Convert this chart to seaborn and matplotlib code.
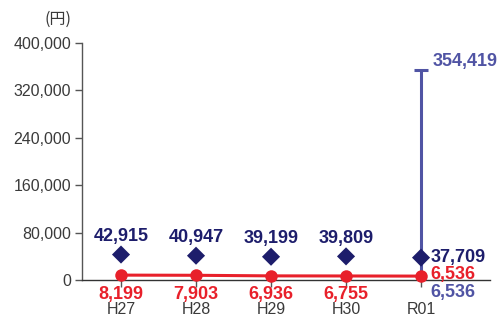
import numpy as np
import pandas as pd
import matplotlib.pyplot as plt
import seaborn as sns

# data
years = ["H27", "H28", "H29", "H30", "R01"]
avg_values = [42915, 40947, 39199, 39809, 37709]
median_values = [8199, 7903, 6936, 6755, 6536]
range_min = 6536
range_max = 354419

navy = "#1d1d6b"
red = "#e8202a"
purple = "#5054a4"

sns.set_style("white")
plt.rcParams['font.family'] = ['Liberation Sans', 'Noto Sans CJK JP', 'DejaVu Sans']

df = pd.DataFrame({"year": years, "avg": avg_values, "median": median_values})
df["x"] = np.arange(len(years))

fig = plt.figure(figsize=(4.97, 3.16), dpi=100)
ax = fig.add_axes([0.165, 0.114, 0.821, 0.75])

# range bar for the last year
last = df["x"].iloc[-1]
ax.vlines(last, range_min, range_max, color=purple, lw=2.2, zorder=2)
ax.hlines(range_max, last - 0.09, last + 0.09, color=purple, lw=2.2, zorder=2)

sns.lineplot(data=df, x="x", y="median", color=red, lw=2.2, marker="o",
             markersize=9, markeredgewidth=0, ax=ax, zorder=3)
sns.scatterplot(data=df, x="x", y="avg", color=navy, marker="D", s=85,
                edgecolor="none", ax=ax, zorder=4)

lab = dict(fontsize=13, fontweight="bold", textcoords="offset points")

# labels
for i, row in df.iterrows():
    if i < len(df) - 1:
        ax.annotate(f"{row['avg']:,}", (row["x"], row["avg"]), xytext=(0, 7),
                    ha="center", va="bottom", color=navy, **lab)
        ax.annotate(f"{row['median']:,}", (row["x"], 0), xytext=(0, -4),
                    ha="center", va="top", color=red, **lab)
    else:
        ax.annotate(f"{row['avg']:,}", (row["x"], row["avg"]), xytext=(7, 0),
                    ha="left", va="center", color=navy, **lab)
        ax.annotate(f"{row['median']:,}", (row["x"], row["median"]), xytext=(7, 1),
                    ha="left", va="center", color=red, **lab)
        ax.annotate(f"{range_min:,}", (row["x"], 0), xytext=(7, -3),
                    ha="left", va="top", color=purple, **lab)
ax.annotate(f"{range_max:,}", (last, range_max), xytext=(8, 6),
            ha="left", va="center", color=purple, **lab)

ax.set_xlim(-0.52, 4.92)
ax.set_ylim(0, 400000)
ax.set_yticks(np.arange(0, 400001, 80000))
ax.set_yticklabels([f"{v:,}" for v in range(0, 400001, 80000)])
ax.set_xticks(df["x"])
ax.set_xticklabels(years)
ax.set_xlabel("")
ax.set_ylabel("")

for s in ["top", "right"]:
    ax.spines[s].set_visible(False)
ax.spines["left"].set_color("#555555")
ax.spines["bottom"].set_color("#333333")
ax.spines["left"].set_linewidth(1)
ax.spines["bottom"].set_linewidth(1)
ax.tick_params(axis="y", length=5, width=1, color="#555555", labelsize=11.5,
               labelcolor="#3a3a3a", pad=3, left=True)
ax.tick_params(axis="x", length=5, width=1, color="#555555", labelsize=11.5,
               labelcolor="#3a3a3a", pad=11, bottom=True)
for c in ax.collections + ax.lines:
    c.set_clip_on(False)

fig.text(0.116, 0.94, "(円)", fontsize=11.5, color="#3a3a3a", ha="center",
         va="center", family=['Noto Sans CJK JP', 'DejaVu Sans'])

fig.savefig("out.png", dpi=100)
